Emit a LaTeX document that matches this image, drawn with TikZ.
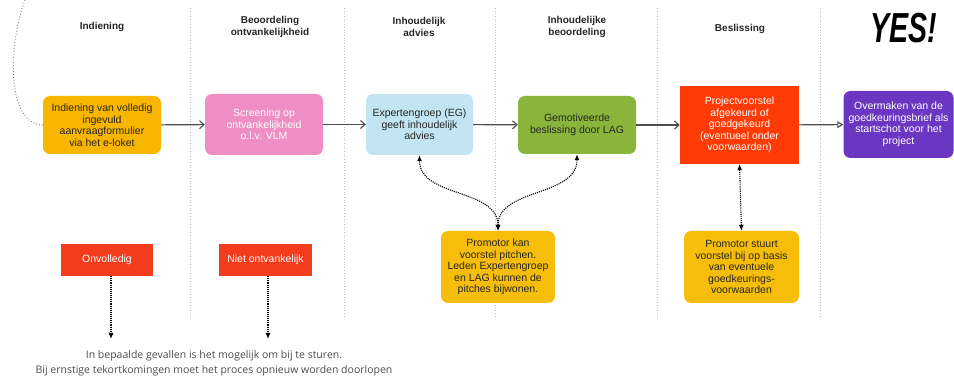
\documentclass[tikz,border=0pt]{standalone}
\usepackage{fontspec}
\setmainfont{Liberation Sans}
\newfontfamily\notefont{Open Sans}
\usetikzlibrary{arrows.meta,positioning}

\definecolor{indienYellow}{HTML}{F8B600}
\definecolor{promoYellow}{HTML}{F6BE0A}
\definecolor{screenPink}{HTML}{EE8EC3}
\definecolor{adviesBlue}{HTML}{C3E4F2}
\definecolor{lagGreen}{HTML}{8BB43B}
\definecolor{besluitRed}{HTML}{FF3A05}
\definecolor{weigerRed}{HTML}{F23C1C}
\definecolor{startPurple}{HTML}{6A36C2}

\begin{document}
\begin{tikzpicture}[x=1pt,y=-1pt,
           phase/.style={font=\bfseries\fontsize{10}{12}\selectfont, align=center, text=black!85},
           stepbox/.style={rounded corners=7pt, align=center, inner sep=2pt,
              font=\fontsize{10.5}{11.5}\selectfont},
           flatbox/.style={align=center, inner sep=2pt, font=\fontsize{10.5}{11.5}\selectfont},
           flow/.style={-{Straight Barb[length=4.5pt,width=8pt]}, draw=black!70, line width=1.1pt},
           hint/.style={{Latex[length=6pt,width=5pt]}-{Latex[length=6pt,width=5pt]},
              densely dotted, line width=1.1pt},
           drop/.style={-{Latex[length=6pt,width=5pt]}, densely dotted, line width=1.1pt},
           lane/.style={draw=black!25, dotted, line width=0.7pt},
        ]
        \useasboundingbox (0,0) rectangle (954,382);

        % lanes
        \foreach \x in {190,344,495,657,820}
          \draw[lane] (\x,8) -- (\x,318);

        % phase titles
        \node[phase] at (102,27) (tIndien) {Indiening};
        \node[phase] at (270,27) (tOntv) {Beoordeling\\ontvankelijkheid};
        \node[phase] at (419,27) (tAdvies) {Inhoudelijk\\advies};
        \node[phase] at (577,27) (tBeoord) {Inhoudelijke\\beoordeling};
        \node[phase] at (740,29) (tBesl) {Beslissing};
        \node[font=\bfseries\itshape\fontsize{42}{42}\selectfont] at (904,28) (yes) {\scalebox{0.68}[1]{YES!}};

        % main flow
        \node[stepbox, fill=indienYellow, text=black!85, minimum width=118pt, minimum height=58pt]
           at (102,125) (indien) {Indiening van volledig\\ingevuld\\aanvraagformulier\\via het e-loket};
        \node[stepbox, fill=screenPink, text=white, minimum width=118pt, minimum height=61pt]
           at (264,124.5) (screening) {Screening op\\ontvankelijkheid\\o.l.v. VLM};
        \node[stepbox, fill=adviesBlue, text=black!85, minimum width=107pt, minimum height=61pt]
           at (419.5,124.5) (advies) {Expertengroep (EG)\\geeft inhoudelijk\\advies};
        \node[stepbox, fill=lagGreen, text=black!85, minimum width=118pt, minimum height=58pt]
           at (577,125) (lag) {Gemotiveerde\\beslissing door LAG};
        \node[flatbox, fill=besluitRed, text=white, minimum width=119pt, minimum height=78pt]
           at (739.5,125) (besluit) {Projectvoorstel\\afgekeurd of\\goedgekeurd\\(eventueel onder\\voorwaarden)};
        \node[stepbox, fill=startPurple, text=white, minimum width=110pt, minimum height=67pt]
           at (898.5,124.5) (start) {Overmaken van de\\goedkeuringsbrief als\\startschot voor het\\project};

        \draw[flow] (indien) -- (screening);
        \draw[flow] (screening) -- (advies);
        \draw[flow] (advies) -- (lag);
        \draw[flow] (lag) -- (besluit);
        \draw[flow, -{Triangle[open,length=6pt,width=7pt]}] (besluit) -- (start);

        % loop back from above
        \coordinate (loopTop) at (25,0);
        \draw[lane, draw=black!50, line width=0.9pt] (loopTop) .. controls (8,45) and (6,124) .. (indien.west);

        % rejections
        \node[flatbox, fill=weigerRed, text=white, minimum width=92pt, minimum height=32pt]
           at (107,260) (onvolledig) {Onvolledig};
        \node[flatbox, fill=weigerRed, text=white, minimum width=93pt, minimum height=32pt]
           at (265.5,260) (nietOntv) {Niet ontvankelijk};
        \node[font=\notefont\fontsize{10.5}{15}\selectfont, text=black!70, align=center]
           at (214,363) (note) {In bepaalde gevallen is het mogelijk om bij te sturen.\\Bij ernstige tekortkomingen moet het proces opnieuw worden doorlopen};
        \coordinate (onvEnd) at (111,339);
        \coordinate (ontvEnd) at (268,339);
        \draw[drop] (onvolledig.south -| onvEnd) -- (onvEnd);
        \draw[drop] (nietOntv.south -| ontvEnd) -- (ontvEnd);

        % promotor
        \node[stepbox, fill=promoYellow, text=black!85, minimum width=114pt, minimum height=72pt]
           at (498,267) (pitch) {Promotor kan\\voorstel pitchen.\\Leden Expertengroep\\en LAG kunnen de\\pitches bijwonen.};
        \node[stepbox, fill=promoYellow, text=black!85, minimum width=115pt, minimum height=72pt]
           at (741.5,267) (bijsturen) {Promotor stuurt\\voorstel bij op basis\\van eventuele\\goedkeurings-\\voorwaarden};

        \draw[hint] (pitch.north) to[out=90,in=-90] (advies.south);
        \draw[hint] (pitch.north) to[out=90,in=-90] (lag.south);
        \draw[hint] (bijsturen.north) -- (besluit.south);
     \end{tikzpicture}
\end{document}
